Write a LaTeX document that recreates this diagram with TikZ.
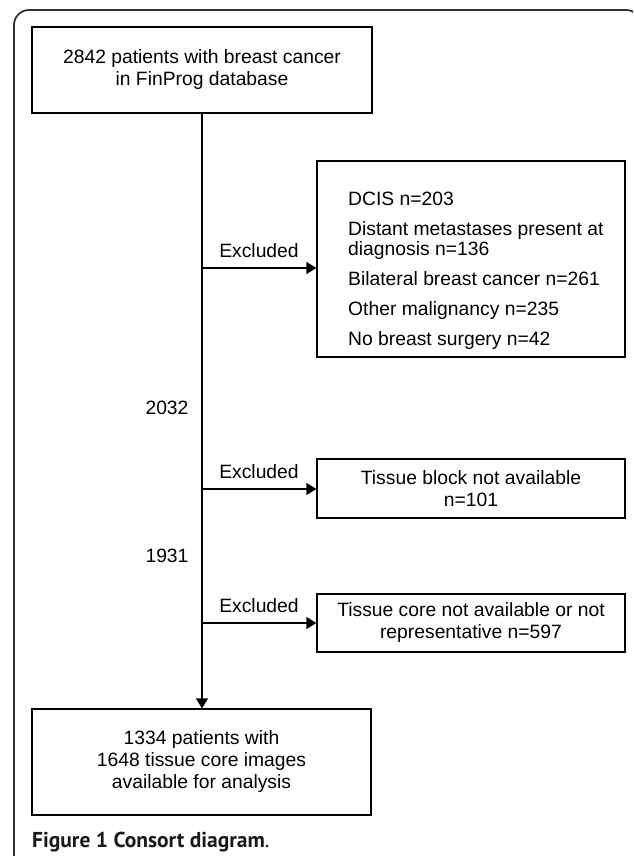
\documentclass[tikz,border=0pt]{standalone}
\usepackage{fontspec}
\setmainfont{Liberation Sans}
\newfontfamily\capfont{PT Sans}
\usetikzlibrary{arrows.meta}
\tikzset{
  flowbox/.style={draw=black, line width=1.3pt, inner sep=0pt, align=center,
    font=\fontsize{19.3}{22}\selectfont},
  flowline/.style={draw=black, line width=1.4pt},
  flowarrow/.style={flowline, -{Triangle[length=10pt,width=12pt]}},
  sidelabel/.style={font=\fontsize{19.3}{22}\selectfont, inner sep=0pt},
  listtext/.style={font=\fontsize{19.3}{19.5}\selectfont, align=left, inner sep=0pt, anchor=west},
}
\begin{document}
\begin{tikzpicture}[x=1pt,y=-1pt]
\useasboundingbox (0,0) rectangle (633,856);
\fill[white] (0,0) rectangle (633,856);
\begin{scope}
  \clip (0,0) rectangle (633,856);
  \draw[line width=1.8pt, draw=black!80, rounded corners=15pt]
    (14,900) -- (14,10) -- (641,10) -- (641,900);
\end{scope}

\node[flowbox, minimum width=340pt, minimum height=86pt] (top) at (202,70)
  {2842 patients with breast cancer\\in FinProg database};
\node[flowbox, minimum width=308pt, minimum height=196pt] (dcis) at (471,259) {};
\node[listtext] (dcistext) at (348,271)
  {DCIS n=203\\[10.5pt]Distant metastases present at\\diagnosis n=136\\[10.5pt]Bilateral breast cancer n=261\\[10.5pt]Other malignancy n=235\\[10.5pt]No breast surgery n=42};
\node[flowbox, minimum width=308pt, minimum height=59pt] (block) at (471,488.5)
  {Tissue block not available\\n=101};
\node[flowbox, minimum width=308pt, minimum height=58pt] (core) at (471,623)
  {Tissue core not available or not\\representative n=597};
\node[flowbox, minimum width=339pt, minimum height=106pt] (final) at (201.5,762)
  {1334 patients with\\1648 tissue core images\\available for analysis};

\coordinate (j1) at (202,268);
\coordinate (j2) at (202,489);
\coordinate (j3) at (202,623);

\draw[flowarrow] (top.south -| j1) -- (final.north -| j1);
\draw[flowarrow] (j1) -- (j1 -| dcis.west);
\draw[flowarrow] (j2) -- (j2 -| block.west);
\draw[flowarrow] (j3) -- (j3 -| core.west);

\node[sidelabel] (ex1) at (259,251) {Excluded};
\node[sidelabel] (ex2) at (259,472) {Excluded};
\node[sidelabel] (ex3) at (259,606) {Excluded};
\node[sidelabel] (n2032) at (167,408) {2032};
\node[sidelabel] (n1931) at (167,556) {1931};

\node[anchor=west, inner sep=0pt, text=black!90, font=\capfont\fontsize{21.5}{24}\selectfont] (caption) at (32,842)
  {\textbf{Figure 1 Consort diagram}.};
\end{tikzpicture}
\end{document}
